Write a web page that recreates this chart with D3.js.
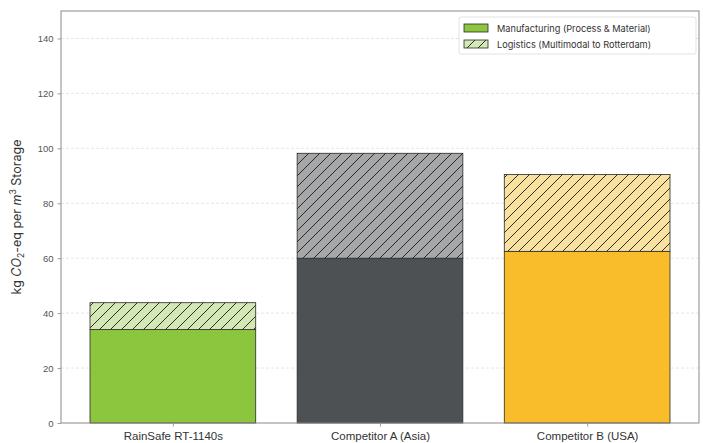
<!DOCTYPE html>
<html>
<head>
<meta charset="utf-8">
<title>Embodied carbon per m3 storage</title>
<script src="https://cdn.jsdelivr.net/npm/d3@7"></script>
<style>
  body { margin: 0; background: #fff; }
  svg { display: block; font-family: Inter, "Noto Sans", sans-serif; }
</style>
</head>
<body>
<svg id="chart" width="703" height="443"></svg>
<script>
// data
var products = ['RainSafe RT-1140s', 'Competitor A (Asia)', 'Competitor B (USA)'];
var manufacturing = [34, 60, 62.5];
var logistics = [9.8, 38.2, 28];
var barColors = ['#8cc63e', '#4d5153', '#f9bc2b'];
var lightColors = ['#d3e8b5', '#a5a7a8', '#f9e1a0'];
var yTicks = [0, 20, 40, 60, 80, 100, 120, 140];
var legendLabels = ['Manufacturing (Process & Material)', 'Logistics (Multimodal to Rotterdam)'];

var svg = d3.select('#chart');
var W = 703, H = 443;
var margin = { top: 11, right: 4, bottom: 20, left: 61 };

// matplotlib style x limits: bars of width 0.8 plus 5% margins
var barW = 0.8;
var x = d3.scaleLinear()
  .domain([-0.54, products.length - 1 + 0.54])
  .range([margin.left, W - margin.right]);
var y = d3.scaleLinear()
  .domain([0, 150])
  .range([H - margin.bottom, margin.top]);

// hatch pattern (//)
var defs = svg.append('defs');
var hatch = defs.append('pattern')
  .attr('id', 'hatch')
  .attr('patternUnits', 'userSpaceOnUse')
  .attr('width', 11).attr('height', 11);
hatch.append('path')
  .attr('d', 'M-1,12 L12,-1 M-6,6 L6,-6 M5,17 L17,5')
  .attr('stroke', '#1a1a1a').attr('stroke-width', 0.9);

// grid
svg.append('g')
  .selectAll('line')
  .data(yTicks.slice(1))
  .enter().append('line')
  .attr('x1', margin.left).attr('x2', W - margin.right)
  .attr('y1', d => y(d)).attr('y2', d => y(d))
  .attr('stroke', '#dedede').attr('stroke-width', 0.8)
  .attr('stroke-dasharray', '3,2');

var bars = svg.append('g');

// manufacturing segment
bars.selectAll('rect.mfg')
  .data(products)
  .enter().append('rect')
  .attr('class', 'mfg')
  .attr('x', (d, i) => x(i - barW / 2))
  .attr('width', (d, i) => x(i + barW / 2) - x(i - barW / 2))
  .attr('y', (d, i) => y(manufacturing[i]))
  .attr('height', (d, i) => y(0) - y(manufacturing[i]))
  .attr('fill', (d, i) => barColors[i])
  .attr('stroke', '#2a2a2a').attr('stroke-width', 0.8);

// logistics segment: light fill, then hatch on top
bars.selectAll('rect.log')
  .data(products)
  .enter().append('rect')
  .attr('class', 'log')
  .attr('x', (d, i) => x(i - barW / 2))
  .attr('width', (d, i) => x(i + barW / 2) - x(i - barW / 2))
  .attr('y', (d, i) => y(manufacturing[i] + logistics[i]))
  .attr('height', (d, i) => y(manufacturing[i]) - y(manufacturing[i] + logistics[i]))
  .attr('fill', (d, i) => lightColors[i]);

bars.selectAll('rect.hatch')
  .data(products)
  .enter().append('rect')
  .attr('class', 'hatch')
  .attr('x', (d, i) => x(i - barW / 2))
  .attr('width', (d, i) => x(i + barW / 2) - x(i - barW / 2))
  .attr('y', (d, i) => y(manufacturing[i] + logistics[i]))
  .attr('height', (d, i) => y(manufacturing[i]) - y(manufacturing[i] + logistics[i]))
  .attr('fill', 'url(#hatch)')
  .attr('stroke', '#2a2a2a').attr('stroke-width', 0.8);

// axes
var yAxis = svg.append('g')
  .attr('transform', `translate(${margin.left},0)`)
  .call(d3.axisLeft(y).tickValues(yTicks).tickSize(3.5).tickPadding(4));
var xAxis = svg.append('g')
  .attr('transform', `translate(0,${H - margin.bottom})`)
  .call(d3.axisBottom(x).tickValues(d3.range(products.length))
    .tickFormat(i => products[i]).tickSize(3.5).tickPadding(5));

[yAxis, xAxis].forEach(function (g) {
  g.select('.domain').remove();
  g.selectAll('.tick line').attr('stroke', '#888').attr('stroke-width', 0.8);
});
yAxis.selectAll('.tick text').attr('fill', '#555').attr('font-size', 9.5);
xAxis.selectAll('.tick text').attr('fill', '#333').attr('font-size', 11.5);

// frame
svg.append('rect')
  .attr('x', margin.left).attr('y', margin.top)
  .attr('width', W - margin.left - margin.right)
  .attr('height', H - margin.top - margin.bottom)
  .attr('fill', 'none').attr('stroke', '#8a8a8a').attr('stroke-width', 1);

// y label with math parts
var yl = svg.append('text')
  .attr('transform', `translate(21,${(margin.top + H - margin.bottom) / 2}) rotate(-90)`)
  .attr('text-anchor', 'middle')
  .attr('font-size', 12.5).attr('fill', '#333');
yl.append('tspan').text('kg ');
yl.append('tspan').attr('font-style', 'italic').text('CO');
yl.append('tspan').attr('font-size', 8.5).attr('dy', 3).text('2');
yl.append('tspan').attr('dy', -3).text('-eq per ');
yl.append('tspan').attr('font-style', 'italic').text('m');
yl.append('tspan').attr('font-size', 8.5).attr('dy', -5).text('3');
yl.append('tspan').attr('dy', 5).text(' Storage');

// legend
var lg = svg.append('g').attr('transform', 'translate(459,17)');
lg.append('rect')
  .attr('width', 237).attr('height', 37).attr('rx', 2)
  .attr('fill', '#fff').attr('stroke', '#dcdcdc').attr('stroke-width', 0.8);
var items = lg.selectAll('g.item')
  .data(legendLabels)
  .enter().append('g')
  .attr('class', 'item')
  .attr('transform', (d, i) => `translate(5,${7 + i * 16})`);
items.append('rect')
  .attr('width', 24).attr('height', 8)
  .attr('fill', (d, i) => i === 0 ? barColors[0] : lightColors[0]);
items.filter((d, i) => i === 1).append('rect')
  .attr('width', 24).attr('height', 8)
  .attr('fill', 'url(#hatch)');
items.append('rect')
  .attr('width', 24).attr('height', 8)
  .attr('fill', 'none').attr('stroke', '#2a2a2a').attr('stroke-width', 0.8);
items.append('text')
  .attr('x', 33).attr('y', 7.5)
  .attr('font-size', 9.2).attr('fill', '#333')
  .text(d => d);
</script>
</body>
</html>
